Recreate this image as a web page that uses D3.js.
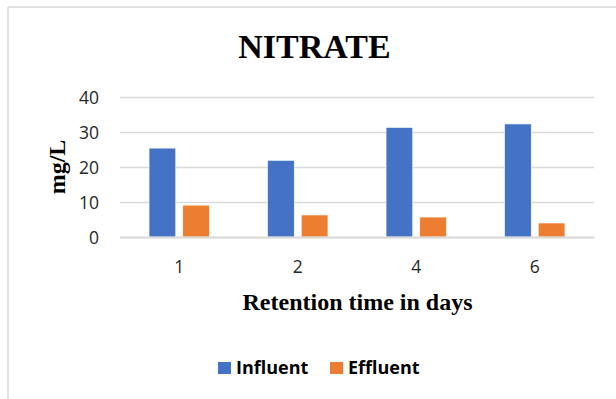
<!DOCTYPE html>
<html>
<head>
<meta charset="utf-8">
<script src="https://cdn.jsdelivr.net/npm/d3@7"></script>
<style>
  html, body { margin: 0; padding: 0; background: #fff; }
  svg { display: block; }
</style>
</head>
<body>
<svg id="chart" width="616" height="399"></svg>
<script>
const categories = ["1", "2", "4", "6"];
const seriesNames = ["Influent", "Effluent"];
const influent = [25.4, 21.9, 31.3, 32.3];
const effluent = [9.1, 6.3, 5.7, 4.0];
const yTicks = [0, 10, 20, 30, 40];
const colors = ["#4472C4", "#ED7D31"];

const seriesData = [influent, effluent];
const svg = d3.select("#chart");

// outer frame (left & top edges visible)
svg.append("line").attr("x1", 8).attr("x2", 8).attr("y1", 7).attr("y2", 399)
  .attr("stroke", "#D9D9D9").attr("stroke-width", 1.5);
svg.append("line").attr("x1", 8).attr("x2", 616).attr("y1", 7).attr("y2", 7)
  .attr("stroke", "#D9D9D9").attr("stroke-width", 1.5);

const x = d3.scaleBand().domain(categories).range([120, 594]).paddingInner(0).paddingOuter(0);
const xs = d3.scaleBand().domain(seriesNames).range([0, x.bandwidth()]).paddingInner(0.208).paddingOuter(0.862);
const y = d3.scaleLinear().domain([0, 40]).range([237, 97]);

// gridlines
const yAxis = d3.axisLeft(y).tickValues(yTicks).tickSize(-(594 - 120)).tickFormat(d => d).tickPadding(21);
const gy = svg.append("g").attr("transform", "translate(120,0)").call(yAxis);
gy.select(".domain").remove();
gy.selectAll(".tick line").attr("stroke", "#D9D9D9").attr("stroke-width", 1.3);
gy.selectAll(".tick text").attr("font-family", "'Open Sans', sans-serif").attr("font-size", 17.5)
  .attr("fill", "#262626").attr("dy", "0.36em");

// bars
seriesNames.forEach((s, si) => {
  svg.append("g").selectAll("rect").data(seriesData[si]).join("rect")
    .attr("x", (d, i) => x(categories[i]) + xs(s))
    .attr("y", d => y(d))
    .attr("width", xs.bandwidth())
    .attr("height", d => y(0) - y(d))
    .attr("fill", colors[si])
    .attr("stroke", "#ffffff").attr("stroke-width", 0.6);
});

// x axis baseline + labels
const xAxis = d3.axisBottom(x).tickSize(0).tickPadding(0);
const gx = svg.append("g").attr("transform", `translate(0,${y(0)})`).call(xAxis);
gx.select(".domain").attr("stroke", "#D9D9D9").attr("stroke-width", 1.8);
gx.selectAll(".tick text").attr("font-family", "'Open Sans', sans-serif").attr("font-size", 17.5)
  .attr("fill", "#262626").attr("y", 36).attr("dy", 0);

// title
svg.append("text").attr("x", 314.5).attr("y", 58).attr("text-anchor", "middle")
  .attr("font-family", "'Liberation Serif', 'Times New Roman', serif").attr("font-weight", "bold")
  .attr("font-size", 34).attr("fill", "#000").text("NITRATE");

// axis titles
svg.append("text").attr("x", 357.5).attr("y", 310).attr("text-anchor", "middle")
  .attr("font-family", "'Liberation Serif', 'Times New Roman', serif").attr("font-weight", "bold")
  .attr("font-size", 24).attr("fill", "#000").text("Retention time in days");
svg.append("text").attr("transform", "translate(65,167) rotate(-90)").attr("text-anchor", "middle")
  .attr("font-family", "'Liberation Serif', 'Times New Roman', serif").attr("font-weight", "bold")
  .attr("font-size", 24).attr("fill", "#000").text("mg/L");

// legend
const legendX = [218, 330];
seriesNames.forEach((s, si) => {
  svg.append("rect").attr("x", legendX[si]).attr("y", 362).attr("width", 13).attr("height", 12).attr("fill", colors[si]);
  svg.append("text").attr("x", legendX[si] + 18).attr("y", 374)
    .attr("font-family", "'Open Sans', sans-serif").attr("font-weight", "bold")
    .attr("font-size", 18).attr("fill", "#000").text(s);
});
</script>
</body>
</html>
